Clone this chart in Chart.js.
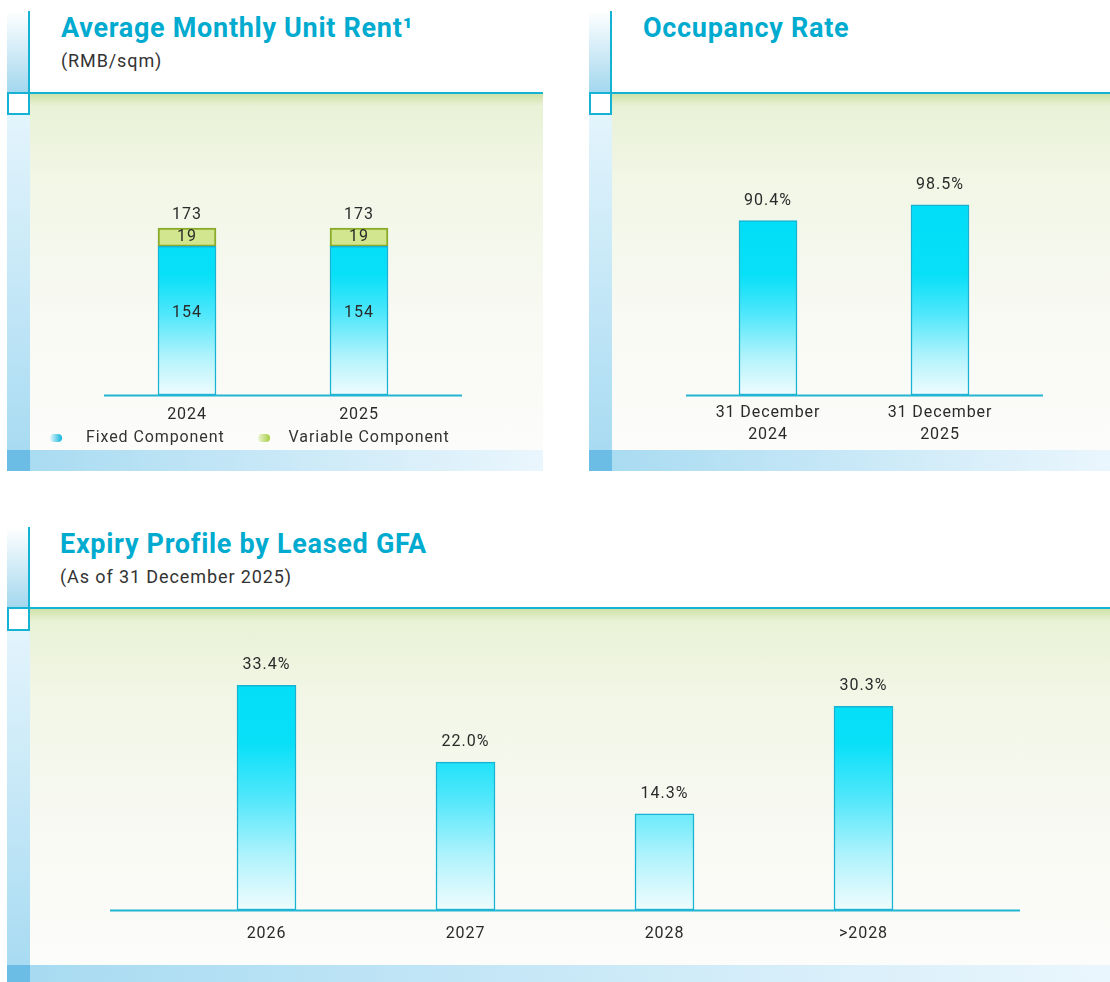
<!DOCTYPE html>
<html>
<head>
<meta charset="utf-8">
<script src="https://cdn.jsdelivr.net/npm/chart.js@4.4.1/dist/chart.umd.min.js"></script>
<style>
  html, body { margin: 0; padding: 0; background: #fff; }
  body { width: 1110px; height: 982px; position: relative; overflow: hidden; font-family: Roboto, "Noto Sans", sans-serif; }
  .abs { position: absolute; }
  .stripTop { background: linear-gradient(#ffffff, #a2d7ee); }
  .stripLow { background: linear-gradient(#e3f4fc, #a8dbf2); }
  .vline, .hline { background: #14b3d3; }
  .box { box-sizing: border-box; border: 2px solid #14b3d3; background: #fff; }
  .green { background: linear-gradient(#cfe2a8 0px, #e9f1d6 12px, #f1f6e5 80px, #f7f9f1 200px, #fcfcfb 100%); }
  .foot { background: linear-gradient(90deg, #a6daf1, #eaf6fd); }
  .footSq { background: #6bbde6; }
  .title { font-weight: 700; color: #00abcf; font-size: 27px; white-space: nowrap; letter-spacing: 0.7px; }
  .sub { color: #333; font-size: 18px; white-space: nowrap; letter-spacing: 0.9px; }
  .legend { font-size: 16px; color: #333; white-space: nowrap; letter-spacing: 0.9px; }
  .pill { display: inline-block; width: 12px; height: 8px; border-radius: 4px; }
  canvas { display: block; }
</style>
</head>
<body>
<!-- panel 1 -->
<div class="abs stripTop" style="left:7px;top:11px;width:22px;height:82px"></div>
<div class="abs vline" style="left:28px;top:11px;width:2px;height:82px"></div>
<div class="abs hline" style="left:7px;top:92px;width:536px;height:2px"></div>
<div class="abs stripLow" style="left:7px;top:115px;width:23px;height:335px"></div>
<div class="abs box" style="left:7px;top:92px;width:23px;height:23px"></div>
<div class="abs green" style="left:30px;top:94px;width:513px;height:356px"></div>
<div class="abs foot" style="left:7px;top:450px;width:536px;height:21px"></div>
<div class="abs footSq" style="left:7px;top:450px;width:23px;height:21px"></div>
<div class="abs title" style="left:61px;top:12px">Average Monthly Unit Rent¹</div>
<div class="abs sub" style="left:61px;top:50px">(RMB/sqm)</div>
<div class="abs" style="left:30px;top:93px;width:513px;height:357px"><canvas id="rentChart" width="513" height="357"></canvas></div>
<div class="abs legend" id="rentLegend" style="left:50px;top:427px"></div>

<!-- panel 2 -->
<div class="abs stripTop" style="left:589px;top:11px;width:22px;height:82px"></div>
<div class="abs vline" style="left:610px;top:11px;width:2px;height:82px"></div>
<div class="abs hline" style="left:589px;top:92px;width:521px;height:2px"></div>
<div class="abs stripLow" style="left:589px;top:115px;width:23px;height:335px"></div>
<div class="abs box" style="left:589px;top:92px;width:23px;height:23px"></div>
<div class="abs green" style="left:612px;top:94px;width:498px;height:356px"></div>
<div class="abs foot" style="left:589px;top:450px;width:521px;height:21px"></div>
<div class="abs footSq" style="left:589px;top:450px;width:23px;height:21px"></div>
<div class="abs title" style="left:643px;top:12px">Occupancy Rate</div>
<div class="abs" style="left:611px;top:93px;width:499px;height:357px"><canvas id="occChart" width="499" height="357"></canvas></div>

<!-- panel 3 -->
<div class="abs stripTop" style="left:7px;top:527px;width:22px;height:81px"></div>
<div class="abs vline" style="left:28px;top:527px;width:2px;height:81px"></div>
<div class="abs hline" style="left:7px;top:607px;width:1103px;height:2px"></div>
<div class="abs stripLow" style="left:7px;top:630px;width:23px;height:335px"></div>
<div class="abs box" style="left:7px;top:607px;width:23px;height:24px"></div>
<div class="abs green" style="left:30px;top:609px;width:1080px;height:356px"></div>
<div class="abs foot" style="left:7px;top:965px;width:1103px;height:17px"></div>
<div class="abs footSq" style="left:7px;top:965px;width:23px;height:17px"></div>
<div class="abs title" style="left:60px;top:528px">Expiry Profile by Leased GFA</div>
<div class="abs sub" style="left:60px;top:566px">(As of 31 December 2025)</div>
<div class="abs" style="left:30px;top:608px;width:1080px;height:357px"><canvas id="expChart" width="1080" height="357"></canvas></div>

<script>
// average monthly unit rent (RMB/sqm)
const rentYears = ["2024", "2025"];
const fixedRent = [154, 154];
const variableRent = [19, 19];
const rentSeries = ["Fixed Component", "Variable Component"];

// occupancy rate (%)
const occDates = [["31 December", "2024"], ["31 December", "2025"]];
const occRate = [90.4, 98.5];

// expiry profile by leased GFA (%)
const expYears = ["2026", "2027", "2028", ">2028"];
const expShare = [33.4, 22.0, 14.3, 30.3];

const CYAN_LINE = "#22b6d4";
const TEXT = "#2a2a2a";
const FONT = "Roboto, 'Noto Sans', sans-serif";

// vertical cyan fade, fixed to the chart area (same for every bar)
function cyanFill(ctx) {
  const chart = ctx.chart;
  const area = chart.chartArea;
  if (!area) return "#00e0f8";
  const y = chart.scales.y;
  const base = y.getPixelForValue(0);
  const g = chart.ctx.createLinearGradient(0, base, 0, area.top);
  g.addColorStop(0, "#effcfe");
  g.addColorStop(0.2, "#b0f3fc");
  g.addColorStop(0.42, "#4fe7fb");
  g.addColorStop(0.62, "#08e0f8");
  g.addColorStop(1, "#00ddf7");
  return g;
}

function greenFill(ctx) {
  const chart = ctx.chart;
  const el = ctx.element;
  if (!chart.chartArea || !el || el.y === undefined) return "#d2e68f";
  const g = chart.ctx.createLinearGradient(0, el.y, 0, el.base);
  g.addColorStop(0, "#c6df78");
  g.addColorStop(1, "#e0eab8");
  return g;
}

// wider letter spacing, closer to the DIN face of the original
const spacing = {
  id: "spacing",
  beforeDraw(chart) { chart.ctx.letterSpacing = "0.9px"; }
};

// baseline drawn along the zero of the y scale
const baseLine = {
  id: "baseLine",
  afterDatasetsDraw(chart, args, opts) {
    const { ctx, chartArea } = chart;
    const y = Math.round(chart.scales.y.getPixelForValue(0)) + 0.5;
    ctx.save();
    ctx.strokeStyle = CYAN_LINE;
    ctx.lineWidth = 2;
    ctx.beginPath();
    ctx.moveTo(chartArea.left - opts.extL, y);
    ctx.lineTo(chartArea.right + opts.extR, y);
    ctx.stroke();
    ctx.restore();
  }
};

// value labels (no datalabels plugin available offline)
const valueLabels = {
  id: "valueLabels",
  afterDatasetsDraw(chart, args, opts) {
    const { ctx } = chart;
    ctx.save();
    ctx.font = "16px " + FONT;
    ctx.letterSpacing = "1px";
    ctx.fillStyle = TEXT;
    ctx.textAlign = "center";
    ctx.textBaseline = "middle";
    const last = chart.data.datasets.length - 1;
    chart.data.datasets.forEach((ds, di) => {
      const meta = chart.getDatasetMeta(di);
      meta.data.forEach((bar, i) => {
        const v = ds.data[i];
        if (opts.mode === "stack") {
          ctx.fillText(String(v), bar.x, (bar.y + bar.base) / 2 + (di === 0 ? -8 : 0));
          if (di === last) {
            const total = chart.data.datasets.reduce((s, d) => s + d.data[i], 0);
            ctx.fillText(String(total), bar.x, bar.y - 13);
          }
        } else {
          ctx.fillText(v.toFixed(1) + "%", bar.x, bar.y - 20);
        }
      });
    });
    ctx.restore();
  }
};

function xAxis(pad, height) {
  return {
    grid: { display: false, drawTicks: false },
    border: { display: false },
    ticks: { color: TEXT, font: { family: FONT, size: 16, lineHeight: 1.37 }, padding: pad, maxRotation: 0, autoSkip: false },
    afterFit: s => { s.height = height; }
  };
}

function yAxis(max, stacked) {
  return { display: false, min: 0, max: max, stacked: !!stacked };
}

const common = {
  responsive: false,
  animation: false,
  events: [],
  plugins: { legend: { display: false }, tooltip: { enabled: false } }
};

new Chart(document.getElementById("rentChart"), {
  type: "bar",
  data: {
    labels: rentYears,
    datasets: [
      { label: rentSeries[0], data: fixedRent, backgroundColor: cyanFill, borderColor: "#18b3d3", borderWidth: 1.5, borderSkipped: false, barThickness: 58 },
      { label: rentSeries[1], data: variableRent, backgroundColor: greenFill, borderColor: "#8aab2a", borderWidth: 2, borderSkipped: false, barThickness: 58 }
    ]
  },
  options: {
    ...common,
    layout: { padding: { left: 71, right: 98, top: 109, bottom: 0 } },
    scales: { x: { ...xAxis(9, 55), stacked: true }, y: yAxis(200, true) },
    plugins: { ...common.plugins, baseLine: { extL: -3, extR: 17 }, valueLabels: { mode: "stack" } }
  },
  plugins: [spacing, baseLine, valueLabels]
});

document.getElementById("rentLegend").innerHTML =
  `<span class="pill" style="background:linear-gradient(90deg,#e6f7fc,#0db3dc)"></span>` +
  `<span style="margin-left:24px">${rentSeries[0]}</span>` +
  `<span class="pill" style="margin-left:33px;background:linear-gradient(90deg,#eef5d6,#a6cd42)"></span>` +
  `<span style="margin-left:19px">${rentSeries[1]}</span>`;

new Chart(document.getElementById("occChart"), {
  type: "bar",
  data: {
    labels: occDates,
    datasets: [
      { label: "Occupancy Rate", data: occRate, backgroundColor: cyanFill, borderColor: "#18b3d3", borderWidth: 1.5, borderSkipped: false, barThickness: 58 }
    ]
  },
  options: {
    ...common,
    layout: { padding: { left: 71, right: 84, top: 109, bottom: 0 } },
    scales: { x: xAxis(7, 55), y: yAxis(100) },
    plugins: { ...common.plugins, baseLine: { extL: -4, extR: 17 }, valueLabels: { mode: "pct" } }
  },
  plugins: [spacing, baseLine, valueLabels]
});

new Chart(document.getElementById("expChart"), {
  type: "bar",
  data: {
    labels: expYears,
    datasets: [
      { label: "Leased GFA", data: expShare, backgroundColor: cyanFill, borderColor: "#18b3d3", borderWidth: 1.5, borderSkipped: false, barThickness: 59 }
    ]
  },
  options: {
    ...common,
    layout: { padding: { left: 137, right: 147, top: 33, bottom: 0 } },
    scales: { x: xAxis(13, 55), y: yAxis(40) },
    plugins: { ...common.plugins, baseLine: { extL: 57, extR: 57 }, valueLabels: { mode: "pct" } }
  },
  plugins: [spacing, baseLine, valueLabels]
});
</script>
</body>
</html>
